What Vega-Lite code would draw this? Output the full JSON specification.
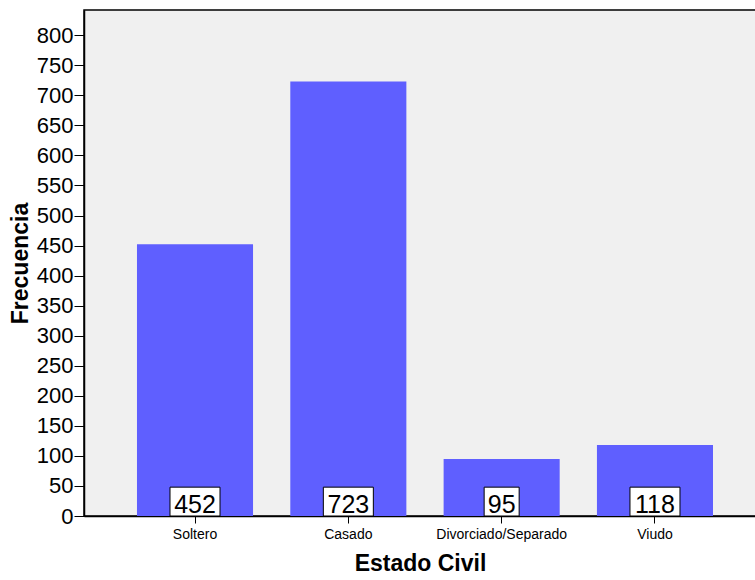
{
  "$schema": "https://vega.github.io/schema/vega-lite/v6.json",
  "autosize": {"type": "none"},
  "padding": {"left": 84, "top": 10, "right": 0, "bottom": 64},
  "width": 672,
  "height": 506,
  "background": "white",
  "config": {
    "view": {"fill": "#F0F0F0", "stroke": "black", "strokeWidth": 1.5},
    "font": "Liberation Sans",
    "axisY": {
      "title": "Frecuencia", "titleFont": "Liberation Sans", "titleFontSize": 23, "titleFontWeight": "bold",
      "titleColor": "black", "titlePadding": 4,
      "values": [0,50,100,150,200,250,300,350,400,450,500,550,600,650,700,750,800],
      "labelOverlap": false,
      "grid": false, "labelFont": "Liberation Sans", "labelFontSize": 22, "labelColor": "black", "labelPadding": 1,
      "tickColor": "black", "tickSize": 10, "domainColor": "black", "domainWidth": 1.5
    }
  },
  "data": {"values": [
    {"estado": "Soltero", "n": 452},
    {"estado": "Casado", "n": 723},
    {"estado": "Divorciado/Separado", "n": 95},
    {"estado": "Viudo", "n": 118}
  ]},
  "encoding": {
    "x": {
      "field": "estado", "type": "nominal", "sort": null,
      "scale": {"paddingInner": 0.243, "paddingOuter": 0.313, "align": 0.552},
      "axis": {
        "title": "Estado Civil", "titleFont": "Liberation Sans", "titleFontSize": 23, "titleFontWeight": "bold",
        "titleColor": "black", "titlePadding": 11,
        "labelAngle": 0, "labelFont": "Liberation Sans", "labelFontSize": 14, "labelColor": "black", "labelPadding": 4,
        "tickColor": "black", "tickSize": 7, "domainColor": "black", "domainWidth": 1.5
      }
    }
  },
  "layer": [
    {
      "mark": {"type": "bar", "color": "#5F5FFF"},
      "encoding": {
        "y": {
          "field": "n", "type": "quantitative",
          "scale": {"domain": [0, 842], "nice": false},
          "axis": {"title": "Frecuencia", "labelOverlap": false, "values": [0,50,100,150,200,250,300,350,400,450,500,550,600,650,700,750,800]}
        }
      }
    },
    {
      "mark": {"type": "bar", "fill": "white", "stroke": "black", "strokeWidth": 1},
      "encoding": {
        "y": {"datum": 0, "type": "quantitative", "axis": {"title": "Frecuencia", "labelOverlap": false, "values": [0,50,100,150,200,250,300,350,400,450,500,550,600,650,700,750,800]}},
        "y2": {"datum": 48},
        "size": {"condition": {"test": "datum.n < 100", "value": 35}, "value": 50}
      }
    },
    {
      "mark": {"type": "text", "fontSize": 25, "baseline": "alphabetic", "dy": -3, "color": "black", "font": "Liberation Sans"},
      "encoding": {
        "y": {"datum": 0, "type": "quantitative", "axis": {"title": "Frecuencia", "labelOverlap": false, "values": [0,50,100,150,200,250,300,350,400,450,500,550,600,650,700,750,800]}},
        "text": {"field": "n", "type": "quantitative"}
      }
    }
  ]
}
